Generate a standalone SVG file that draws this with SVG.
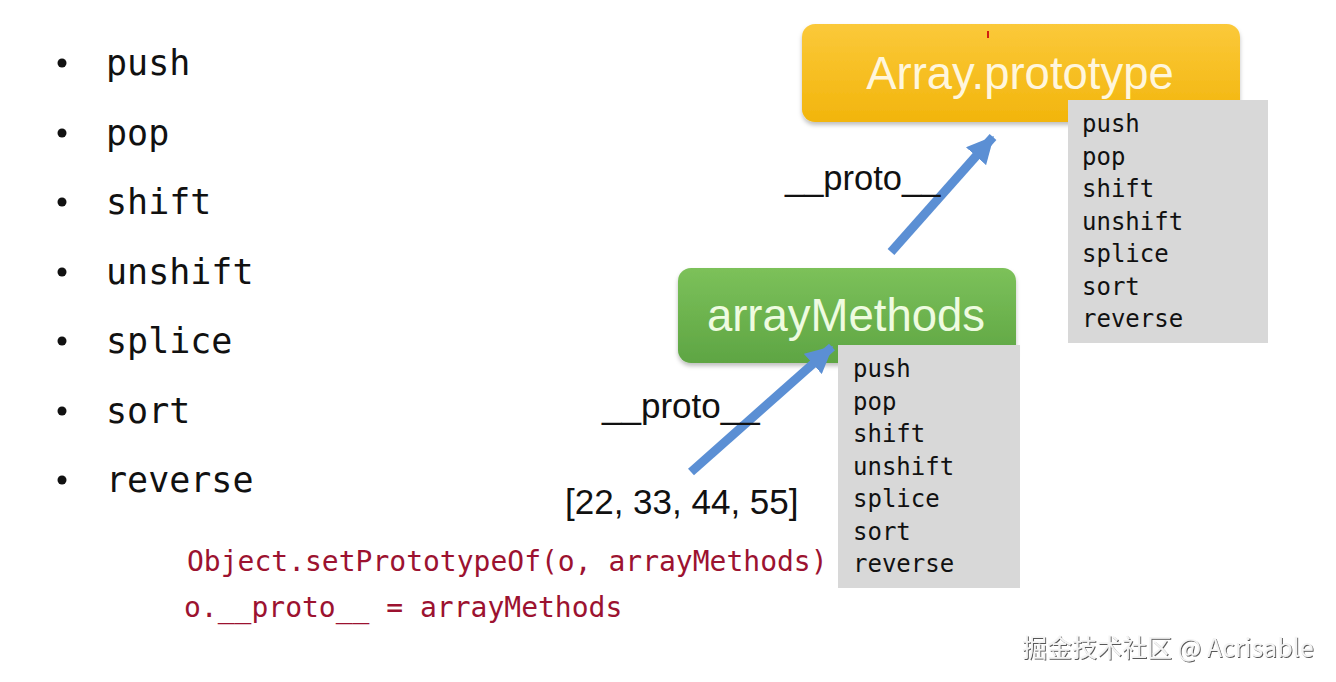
<svg xmlns="http://www.w3.org/2000/svg" width="1336" height="682" viewBox="0 0 1336 682">
<style>
.bul{font-family:"DejaVu Sans Mono","Liberation Mono",monospace;font-size:35px;fill:#111}
.lst{font-family:"DejaVu Sans Mono","Liberation Mono",monospace;font-size:24px;fill:#111}
.lbl{font-family:"Liberation Sans",Arial,sans-serif;fill:#111}
.code{font-family:"DejaVu Sans Mono","Liberation Mono",monospace;font-size:28px;fill:#9c1230}
.title{font-family:"Liberation Sans",Arial,sans-serif;font-size:45.5px}
.gbox{fill:#d8d8d8}
.arrow{stroke:#5b8fd4;stroke-width:9;fill:none}
</style>
<defs>
<linearGradient id="gy" x1="0" y1="0" x2="0" y2="1">
<stop offset="0" stop-color="#fbc93a"/>
<stop offset="1" stop-color="#f2b50c"/>
</linearGradient>
<linearGradient id="gg" x1="0" y1="0" x2="0" y2="1">
<stop offset="0" stop-color="#7cc15a"/>
<stop offset="1" stop-color="#5ea543"/>
</linearGradient>
<linearGradient id="gb" x1="0" y1="0" x2="1" y2="1">
<stop offset="0" stop-color="#d6d6d6"/>
<stop offset="1" stop-color="#dcdcdc"/>
</linearGradient>
<filter id="sh" x="-10%" y="-10%" width="120%" height="130%">
<feDropShadow dx="0" dy="3" stdDeviation="2" flood-color="#000" flood-opacity="0.25"/>
</filter>
<filter id="wm" x="-5%" y="-20%" width="110%" height="150%">
<feDropShadow dx="1" dy="1" stdDeviation="0.6" flood-color="#444" flood-opacity="0.9"/>
</filter>
<marker id="ah" viewBox="0 0 10 10" refX="9.5" refY="5" markerWidth="3" markerHeight="3" orient="auto" markerUnits="strokeWidth">
<path d="M0,0 L10,5 L0,10 z" fill="#5b8fd4"/>
</marker>
</defs>
<rect width="1336" height="682" fill="#ffffff"/>

<g id="bullet-list">
<circle cx="62" cy="63" r="4.5" fill="#111"/><text class="bul" x="106" y="75">push</text>
<circle cx="62" cy="133" r="4.5" fill="#111"/><text class="bul" x="106" y="145">pop</text>
<circle cx="62" cy="202" r="4.5" fill="#111"/><text class="bul" x="106" y="214">shift</text>
<circle cx="62" cy="272" r="4.5" fill="#111"/><text class="bul" x="106" y="284">unshift</text>
<circle cx="62" cy="341" r="4.5" fill="#111"/><text class="bul" x="106" y="353">splice</text>
<circle cx="62" cy="411" r="4.5" fill="#111"/><text class="bul" x="106" y="423">sort</text>
<circle cx="62" cy="480" r="4.5" fill="#111"/><text class="bul" x="106" y="492">reverse</text>
</g>

<g id="array-prototype">
<rect x="802" y="24" width="438" height="98" rx="13" fill="url(#gy)" filter="url(#sh)"/>
<path d="M988,31 l0,7" stroke="#d02010" stroke-width="2"/>
<text class="title" x="1020" y="89" text-anchor="middle" fill="#fff6dc">Array.prototype</text>
</g>

<g id="array-prototype-methods">
<rect class="gbox" x="1068" y="100" width="200" height="243" fill="url(#gb)"/>
<text class="lst" x="1082" y="132">push</text>
<text class="lst" x="1082" y="164.5">pop</text>
<text class="lst" x="1082" y="197">shift</text>
<text class="lst" x="1082" y="229.5">unshift</text>
<text class="lst" x="1082" y="262">splice</text>
<text class="lst" x="1082" y="294.5">sort</text>
<text class="lst" x="1082" y="327">reverse</text>
</g>

<g id="arrayMethods">
<rect x="678" y="268" width="338" height="95" rx="13" fill="url(#gg)" filter="url(#sh)"/>
<text class="title" x="846" y="331" text-anchor="middle" fill="#eefbe0">arrayMethods</text>
</g>

<g id="arrayMethods-methods">
<rect class="gbox" x="838" y="345" width="182" height="243" fill="url(#gb)"/>
<text class="lst" x="853" y="377">push</text>
<text class="lst" x="853" y="409.5">pop</text>
<text class="lst" x="853" y="442">shift</text>
<text class="lst" x="853" y="474.5">unshift</text>
<text class="lst" x="853" y="507">splice</text>
<text class="lst" x="853" y="539.5">sort</text>
<text class="lst" x="853" y="572">reverse</text>
</g>

<g id="array-instance">
<text class="lbl" x="565" y="514" font-size="35">[22, 33, 44, 55]</text>
</g>

<g id="connectors">
<line class="arrow" x1="891" y1="252" x2="993" y2="137" marker-end="url(#ah)"/>
<line class="arrow" x1="691" y1="472" x2="832" y2="347" marker-end="url(#ah)"/>
<text class="lbl" x="785" y="190" font-size="34.5">__proto__</text>
<text class="lbl" x="602" y="418" font-size="35">__proto__</text>
</g>

<g id="code">
<text class="code" x="187" y="571">Object.setPrototypeOf(o, arrayMethods)</text>
<text class="code" x="184" y="617">o.__proto__ = arrayMethods</text>
</g>

<g id="watermark">
<text x="1022" y="657" font-family="'Noto Sans CJK SC','Liberation Sans',sans-serif" font-size="25" fill="#f4f4f4" filter="url(#wm)">掘金技术社区 @ Acrisable</text>
</g>
</svg>
